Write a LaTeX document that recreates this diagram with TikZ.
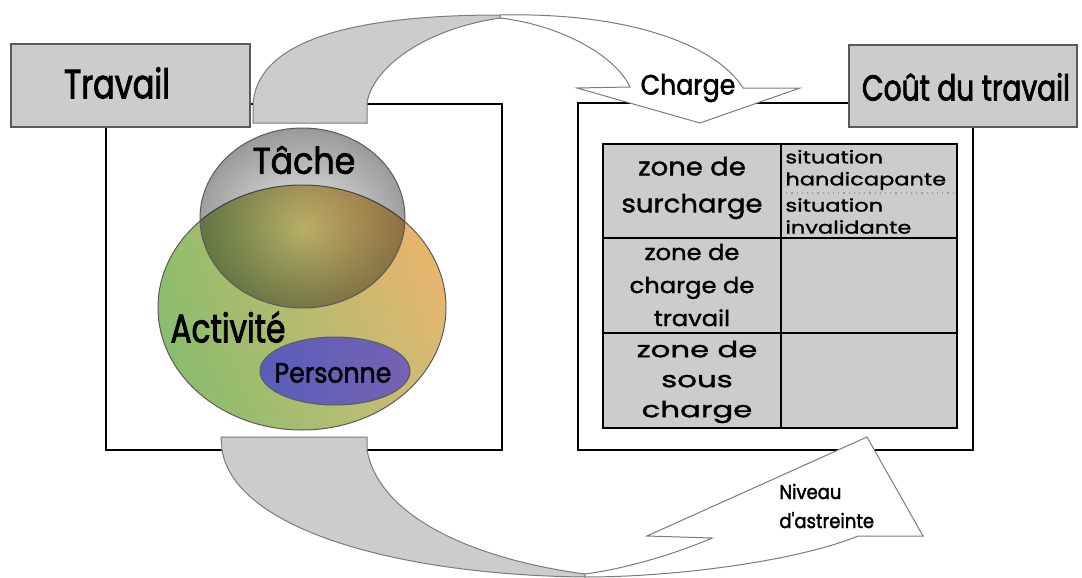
\documentclass[tikz,border=0pt]{standalone}
\usepackage{fontspec}
\setmainfont{Poppins}
\newfontfamily\titlefont{Poppins}[FakeStretch=0.78,FakeBold=2]
\newfontfamily\midfont{Poppins}[FakeStretch=0.9,FakeBold=1.8]
\newfontfamily\cellfont{Poppins}[FakeStretch=1.1,FakeBold=1.4]
\newfontfamily\widefont{Poppins}[FakeStretch=1.4,FakeBold=1.6]
\newfontfamily\smallfont{Poppins}[FakeStretch=1.28,FakeBold=1.2]
\usetikzlibrary{positioning,shadings}

\definecolor{boxgray}{RGB}{204,204,204}
\definecolor{edgegray}{RGB}{90,90,90}
\definecolor{actgreen}{RGB}{128,188,108}
\definecolor{actorange}{RGB}{252,176,104}
\definecolor{actleft}{RGB}{150,190,110}
\definecolor{actright}{RGB}{205,190,118}
\definecolor{persleft}{RGB}{88,94,186}
\definecolor{persright}{RGB}{118,98,178}
\pgfdeclareradialshading{tacheshade}{\pgfpoint{0bp}{-3bp}}{color(0bp)=(white!95!black); color(14bp)=(white!76!black); color(25bp)=(white!62!black); color(35bp)=(white!45!black); color(50bp)=(white!40!black)}

\begin{document}
\begin{tikzpicture}[x=0.5pt,y=-0.5pt,
  frame/.style={draw=black,line width=1pt},
  titlebox/.style={fill=boxgray,draw=edgegray,line width=0.7pt},
  ribbon/.style={fill=boxgray,draw=edgegray!80,line width=0.5pt},
  whitearrow/.style={fill=white,draw=edgegray!80,line width=0.5pt},
  outline/.style={draw=edgegray,line width=0.5pt},
  lbl/.style={inner sep=0pt,text=black}]
\useasboundingbox (0,0) rectangle (1082,578);

% frames
\draw[frame] (106,104) rectangle (502,450);
\draw[frame] (578,103) rectangle (973,450);

% title boxes
\draw[titlebox] (11,44) rectangle (250,127);
\draw[titlebox] (849,45) rectangle (1077,127);
\node[lbl,font=\titlefont\fontsize{20.5}{24}\selectfont] (travail) at (117,83) {Travail};
\node[lbl,font=\titlefont\fontsize{18}{22}\selectfont] (cout) at (966,87) {Coût du travail};

% activite, tache, personne
\shade[lower left=actgreen,upper right=actorange,upper left=actleft,lower right=actright]
  (302,307.5) ellipse [x radius=144,y radius=122.5];
\draw[outline] (302,307.5) ellipse [x radius=144,y radius=122.5];
\shade[shading=tacheshade,blend mode=multiply] (302.5,218) ellipse [x radius=102.5,y radius=90];
\draw[outline] (302.5,218) ellipse [x radius=102.5,y radius=90];
\shade[left color=persleft,right color=persright] (335,371) ellipse [x radius=75,y radius=34];
\draw[outline] (335,371) ellipse [x radius=75,y radius=34];
\node[lbl,font=\midfont\fontsize{18.5}{22}\selectfont] (tache) at (304,160) {Tâche};
\node[lbl,font=\titlefont\fontsize{20}{24}\selectfont] (activite) at (228,327) {Activité};
\node[lbl,font=\midfont\fontsize{14}{17}\selectfont] (personne) at (333,373) {Personne};

% table
\fill[boxgray] (603,144) rectangle (957,428);
\draw[edgegray!60,dotted,line width=0.6pt] (781,193) -- (957,193);
\draw[black,line width=1pt] (603,144) rectangle (957,428)
  (781,144) -- (781,428) (603,238) -- (957,238) (603,333) -- (957,333);
\node[lbl,align=center,font=\cellfont\fontsize{12.5}{18.5}\selectfont] (z1) at (692,188) {zone de\\surcharge};
\node[lbl,align=center,font=\cellfont\fontsize{11}{16.5}\selectfont] (z2) at (692,285) {zone de\\charge de\\travail};
\node[lbl,align=center,font=\widefont\fontsize{11}{15}\selectfont] (z3) at (697,382) {zone de\\sous\\charge};
\node[lbl,anchor=west,align=left,font=\smallfont\fontsize{8.8}{11}\selectfont] (s1) at (785,170) {situation\\handicapante};
\node[lbl,anchor=west,align=left,font=\smallfont\fontsize{8.8}{11}\selectfont] (s2) at (785,216) {situation\\invalidante};

% top ribbon: Travail -> Charge
\filldraw[ribbon] (253,123) -- (253,105) .. controls (256,45) and (340,15) .. (500,15)
  -- (500,18) .. controls (420,30) and (372,70) .. (367,103) -- (367,123) -- cycle;
\filldraw[whitearrow] (500,15) .. controls (640,12) and (720,50) .. (743,88) -- (800,88)
  -- (700,123) -- (577,88) -- (630,87) .. controls (615,55) and (560,25) .. (500,18) -- cycle;
\node[lbl,font=\midfont\fontsize{14}{17}\selectfont] (charge) at (688,88) {Charge};

% bottom ribbon: Travail -> Niveau d'astreinte
\filldraw[ribbon] (221,437) -- (367,437) -- (367,450) .. controls (380,520) and (480,560) .. (585,574)
  -- (585,577) .. controls (400,575) and (235,530) .. (222,450) -- cycle;
\filldraw[whitearrow] (585,577) .. controls (680,577) and (800,560) .. (858,536) -- (923,536)
  -- (867,437) -- (647,536) -- (712,538) .. controls (680,552) and (630,568) .. (585,574) -- cycle;
\node[lbl,anchor=west,align=left,font=\midfont\fontsize{10}{14.5}\selectfont] (niveau) at (779,506) {Niveau\\d'astreinte};
\end{tikzpicture}
\end{document}
